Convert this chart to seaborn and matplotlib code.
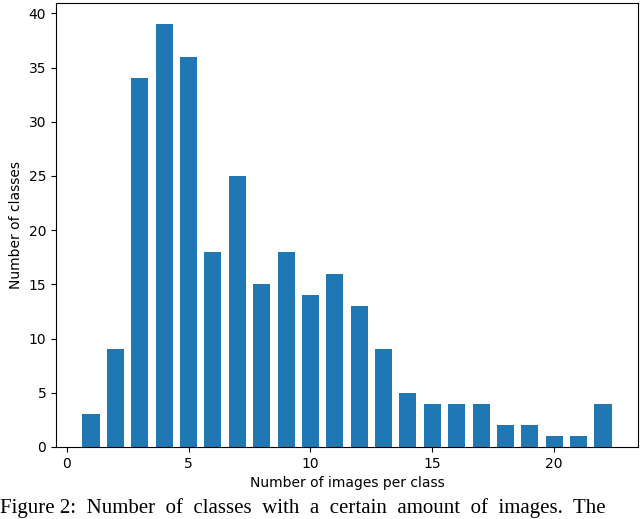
import matplotlib
matplotlib.use('Agg')
import matplotlib.pyplot as plt
import seaborn as sns
import pandas as pd

# images per class -> number of classes
images_per_class = [1, 2, 3, 4, 5, 6, 7, 8, 9, 10, 11, 12, 13, 14, 15, 16, 17, 18, 19, 20, 21, 22]
num_classes = [3, 9, 34, 39, 36, 18, 25, 15, 18, 14, 16, 13, 9, 5, 4, 4, 4, 2, 2, 1, 1, 4]
caption = "Figure 2:  Number  of  classes  with  a  certain  amount  of  images.  The"

df = pd.DataFrame({'images': images_per_class, 'classes': num_classes})

fig = plt.figure(figsize=(6.4, 5.19), dpi=100)
ax = fig.add_axes([56 / 640, 72 / 519, 582 / 640, 444 / 519])

sns.barplot(data=df, x='images', y='classes', native_scale=True, width=0.7,
            color='#1f77b4', saturation=1, ax=ax)
ax.margins(x=0.05, y=0.05)
ax.set_ylim(0, 40.95)
ax.set_xlabel('Number of images per class')
ax.set_ylabel('Number of classes')

# caption of the paper figure, cropped at the bottom edge in the original
fig.text(0.0, 1 / 519, caption, family='Liberation Serif', fontsize=15,
         va='bottom', ha='left')

fig.savefig('out.png', dpi=100)
